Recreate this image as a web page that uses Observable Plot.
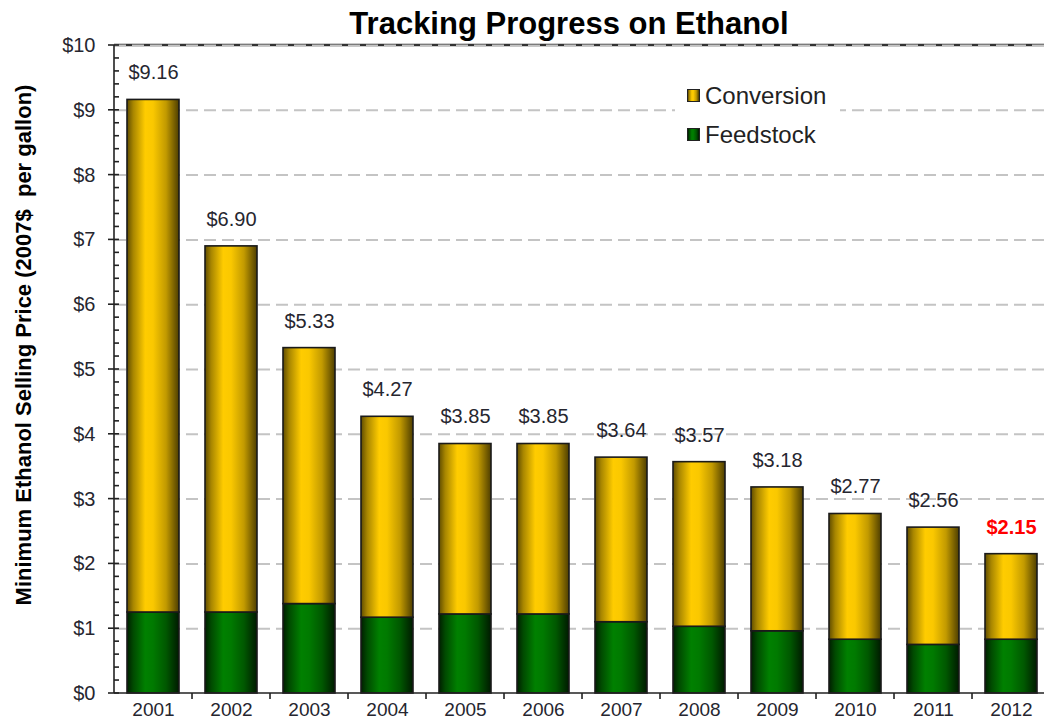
<!DOCTYPE html>
<html><head><meta charset="utf-8">
<script src="https://cdn.jsdelivr.net/npm/d3@7"></script>
<script src="https://cdn.jsdelivr.net/npm/@observablehq/plot@0.6"></script>
<style>
body{margin:0;background:#fff;font-family:"Liberation Sans",Arial,sans-serif;}
#wrap{position:relative;width:1044px;height:723px;overflow:hidden}
#title{height:40px;position:relative}
#title span{position:absolute;left:569px;top:6px;transform:translateX(-50%);font-weight:bold;font-size:31px;white-space:nowrap;color:#000}
#legend{position:absolute;left:675px;top:76px;width:165px;background:#fff;padding-left:12px;box-sizing:border-box}
.row{display:flex;align-items:center;height:39px;font-size:24px;color:#222}
.sw{width:11px;height:11px;border:1px solid #222;margin-right:5px}
</style></head><body>
<div id="wrap"><div id="title"><span>Tracking Progress on Ethanol</span></div><div id="chart"></div><div id="legend"></div></div>
<script>
// ---- data ----
const years = ["2001","2002","2003","2004","2005","2006","2007","2008","2009","2010","2011","2012"];
const feedstock = [1.25, 1.25, 1.38, 1.17, 1.22, 1.22, 1.10, 1.03, 0.96, 0.83, 0.75, 0.83];
const conversion = [7.91, 5.65, 3.95, 3.10, 2.63, 2.63, 2.54, 2.54, 2.22, 1.94, 1.81, 1.32];
const totalLabels = ["$9.16","$6.90","$5.33","$4.27","$3.85","$3.85","$3.64","$3.57","$3.18","$2.77","$2.56","$2.15"];
const highlightYear = "2012";
const yTicks = [0,1,2,3,4,5,6,7,8,9,10];
const yMinorStep = 0.2;
const seriesNames = ["Conversion","Feedstock"];
const yLabel = "Minimum Ethanol Selling Price (2007$  per gallon)";

const rows = years.map((y, i) => ({year: y, feed: feedstock[i], conv: conversion[i], top: feedstock[i] + conversion[i], label: totalLabels[i]}));

const goldStops = [[0,"#604c00"],[0.12,"#a88600"],[0.35,"#ffcc00"],[0.5,"#fac800"],[0.75,"#c29a00"],[1,"#4e3e00"]];
const greenStops = [[0,"#001e00"],[0.12,"#004a00"],[0.35,"#008000"],[0.5,"#007a00"],[0.75,"#005800"],[1,"#001a00"]];

function defs() {
  const d = d3.create("svg:defs");
  for (const [id, stops] of [["gGold", goldStops], ["gGreen", greenStops]]) {
    const lg = d.append("linearGradient").attr("id", id).attr("x1", 0).attr("x2", 1).attr("y1", 0).attr("y2", 0);
    for (const [o, c] of stops) lg.append("stop").attr("offset", o).attr("stop-color", c);
  }
  return d.node();
}

function decor(index, scales, values, dim) {
  const x = scales.x, y = scales.y;
  const g = d3.create("svg:g");
  const x0 = dim.marginLeft;
  const lines = g.append("g").attr("stroke", "#222").attr("stroke-width", 1.6);
  lines.append("line").attr("x1", x0).attr("x2", x0).attr("y1", y(0)).attr("y2", y(10));
  lines.append("line").attr("x1", x0).attr("x2", dim.width).attr("y1", y(0)).attr("y2", y(0));
  for (const v of yTicks) lines.append("line").attr("x1", x0 - 6).attr("x2", x0 + 5).attr("y1", y(v)).attr("y2", y(v));
  for (let v = yMinorStep; v < 10; v += yMinorStep) {
    if (Math.abs(v - Math.round(v)) < 1e-6) continue;
    lines.append("line").attr("x1", x0).attr("x2", x0 + 5).attr("y1", y(v)).attr("y2", y(v));
  }
  const step = x(years[1]) - x(years[0]);
  const bw = step * (1 - 0.333);
  for (let i = 1; i <= years.length; i++) {
    const bx = (i < years.length ? x(years[i]) : x(years[i - 1]) + step) - (step - bw) / 2;
    lines.append("line").attr("x1", bx).attr("x2", bx).attr("y1", y(0)).attr("y2", y(0) + 6);
  }
  g.append("text").attr("transform", `translate(31,305) rotate(-90)`)
    .attr("text-anchor", "middle").attr("font-size", 22).attr("font-weight", "bold")
    .attr("fill", "#000").text(yLabel);
  return g.node();
}

function topLine(index, scales, values, dim) {
  return d3.create("svg:line").attr("x1", dim.marginLeft).attr("x2", dim.width)
    .attr("y1", scales.y(10)).attr("y2", scales.y(10)).attr("stroke", "#333").attr("stroke-width", 2.5).node();
}

const chart = Plot.plot({
  width: 1044,
  height: 683,
  marginTop: 5,
  marginBottom: 30,
  marginLeft: 114,
  marginRight: 0,
  style: {overflow: "visible", fontFamily: "'Liberation Sans', Arial, sans-serif", background: "transparent"},
  x: {type: "band", domain: years, range: [114, 1051], paddingInner: 0.333, paddingOuter: 0.1667, align: 0.5},
  y: {domain: [0, 10]},
  marks: [
    defs,
    topLine,
    Plot.gridY(yTicks.filter(v => v > 0), {stroke: "#c4c4c4", strokeOpacity: 1, strokeWidth: 2, strokeDasharray: "12,6"}),
    Plot.barY(rows, {x: "year", y1: 0, y2: "feed", fill: "url(#gGreen)", stroke: "#1a1a1a", strokeWidth: 1.6}),
    Plot.barY(rows, {x: "year", y1: "feed", y2: "top", fill: "url(#gGold)", stroke: "#1a1a1a", strokeWidth: 1.6}),
    Plot.text(rows.filter(d => d.year !== highlightYear), {x: "year", y: "top", text: "label", dy: -27, fontSize: 20, fill: "#26262f"}),
    Plot.text(rows.filter(d => d.year === highlightYear), {x: "year", y: "top", text: "label", dy: -27, fontSize: 20, fontWeight: "bold", fill: "#ff0000"}),
    Plot.axisY({ticks: yTicks, tickFormat: d => "$" + d, tickSize: 0, tickPadding: 19, fontSize: 20, fill: "#26262f", label: null}),
    Plot.axisX({tickSize: 0, tickPadding: 9, fontSize: 19, fill: "#26262f", label: null}),
    decor
  ]
});
document.getElementById("chart").appendChild(chart);

const swatchCss = {
  Conversion: `linear-gradient(to right, ${goldStops.map(([o,c]) => `${c} ${o*100}%`).join(",")})`,
  Feedstock: `linear-gradient(to right, ${greenStops.map(([o,c]) => `${c} ${o*100}%`).join(",")})`
};
const leg = d3.select("#legend");
for (const name of seriesNames) {
  const r = leg.append("div").attr("class", "row");
  r.append("div").attr("class", "sw").style("background", swatchCss[name]);
  r.append("span").text(name);
}
</script>
</body></html>
